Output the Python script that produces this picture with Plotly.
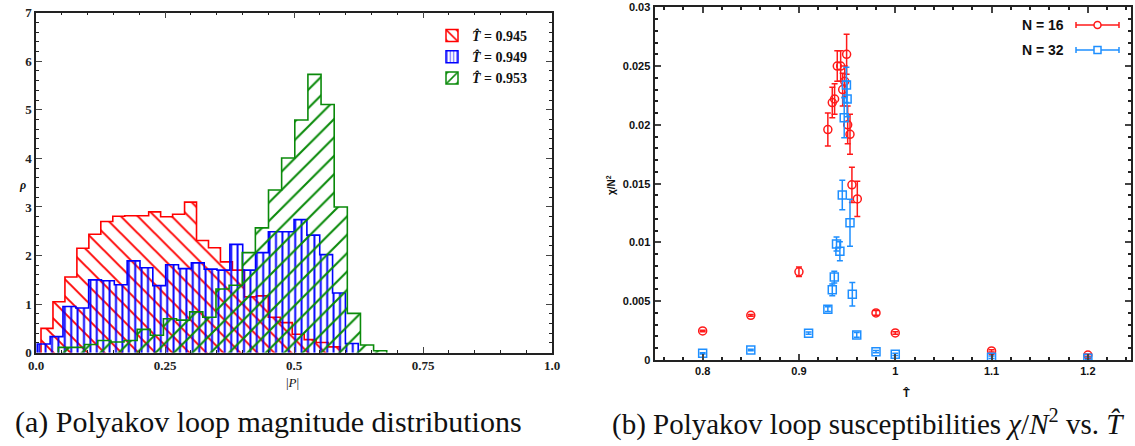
import numpy as np
import plotly.graph_objects as go

W, H = 1135, 446

# ---------------- data: panel (a) histograms (25 bins each, density) ----------------
hist_names = ["0.945", "0.949", "0.953"]
red_range = (0.0097, 0.5893)
red_rho = [0.50, 1.05, 1.56, 2.15, 2.44, 2.70, 2.81, 2.82, 2.82, 2.90, 2.80, 2.85, 3.10,
           2.31, 2.16, 1.87, 1.70, 1.15, 1.17, 0.73, 0.62, 0.38, 0.27, 0.21, 0.12]
blue_range = (0.0025, 0.6245)
blue_rho = [0.18, 0.33, 0.95, 0.92, 1.50, 1.48, 1.40, 1.89, 1.75, 1.38, 1.81, 1.73, 1.85,
            1.72, 1.70, 2.23, 1.70, 2.06, 2.49, 2.49, 2.74, 2.42, 2.02, 1.23, 0.19]
green_range = (0.0433, 0.6797)
green_rho = [0.11, 0.11, 0.17, 0.25, 0.22, 0.25, 0.48, 0.36, 0.70, 0.67, 0.84, 0.73, 1.31,
             1.39, 2.06, 2.57, 3.35, 4.01, 4.79, 5.73, 5.11, 3.00, 0.81, 0.16, 0.04]

# ---------------- data: panel (b) susceptibilities ----------------
n16_T = [0.80, 0.85, 0.90, 0.930, 0.9346, 0.937, 0.9398, 0.9433, 0.9454, 0.9475, 0.9495,
         0.9506, 0.953, 0.955, 0.9606, 0.98, 1.00, 1.10, 1.20]
n16_chi = [0.00247, 0.0038, 0.0075, 0.0196, 0.0219, 0.0222, 0.0250, 0.0250, 0.0230, 0.0237,
           0.0260, 0.0200, 0.0192, 0.0149, 0.0137, 0.0040, 0.0023, 0.00077, 0.00042]
n16_err = [0.00006, 0.00008, 0.0004, 0.0014, 0.0013, 0.0013, 0.0013, 0.0013, 0.0014, 0.0013,
           0.0017, 0.0016, 0.0017, 0.0015, 0.0015, 0.0002, 0.0001, 0.0001, 0.0001]
n32_T = [0.80, 0.85, 0.91, 0.930, 0.9346, 0.9367, 0.939, 0.9425, 0.945, 0.947, 0.9493,
         0.9500, 0.953, 0.9554, 0.960, 0.98, 1.00, 1.10, 1.20]
n32_chi = [0.00057, 0.00085, 0.00228, 0.00432, 0.00597, 0.00705, 0.00987, 0.00925, 0.01404,
           0.0206, 0.0234, 0.0222, 0.01168, 0.0056, 0.00213, 0.00071, 0.00048, 0.00023, 0.00014]
n32_err = [0.00005, 0.00006, 0.0001, 0.0002, 0.0005, 0.0005, 0.0006, 0.0008, 0.00125, 0.0017,
           0.0015, 0.0015, 0.0020, 0.0010, 0.0002, 0.0001, 0.0001, 0.0001, 0.0001]

RED_H, BLUE_H, GREEN_H = "#ff0000", "#0000ff", "#0a8a0a"
RED_P, BLUE_P = "#ff1a1a", "#1e8fff"
SERIF = "Liberation Serif"
SANS = "Liberation Sans"


def px(x):
    return x / W


def py(y):
    return 1 - y / H


def step_xy(rng, h):
    edges = np.linspace(rng[0], rng[1], len(h) + 1)
    xs = [edges[0]] + list(edges[:-1]) + [edges[-1]]
    ys = [0] + list(h) + [0]
    return xs, ys


fig = go.Figure()

hist_specs = [
    (red_range, red_rho, RED_H, "\\", 12, 0.16),
    (blue_range, blue_rho, BLUE_H, "|", 6.4, 0.3),
    (green_range, green_rho, GREEN_H, "/", 13, 0.16),
]
for name, (rng, rho, col, shp, sz, sol) in zip(hist_names, hist_specs):
    xs, ys = step_xy(rng, rho)
    fig.add_trace(go.Scatter(
        x=xs, y=ys, mode="lines", xaxis="x", yaxis="y",
        line=dict(shape="hv", color=col, width=1.6),
        fill="tozeroy", fillcolor="rgba(0,0,0,0)",
        fillpattern=dict(shape=shp, fgcolor=col, bgcolor="rgba(0,0,0,0)",
                         fgopacity=1, size=sz, solidity=sol),
        showlegend=False, hoverinfo="skip"))
    fig.add_trace(go.Bar(
        x=[None], y=[None], xaxis="x", yaxis="y",
        name="<b><i>T̂</i> = %s</b>" % name,
        marker=dict(color="rgba(0,0,0,0)", line=dict(color=col, width=1.5),
                    pattern=dict(shape=shp, fgcolor=col, bgcolor="white", fgopacity=1,
                                 size=9 if shp != "|" else 4, solidity=0.22)),
        showlegend=True))

fig.add_trace(go.Scatter(
    x=n16_T, y=n16_chi, mode="markers", xaxis="x2", yaxis="y2", name="N = 16",
    marker=dict(symbol="circle-open", size=8, color=RED_P, line=dict(width=1.5, color=RED_P)),
    error_y=dict(type="data", array=n16_err, color=RED_P, thickness=1.5, width=3),
    showlegend=False))
fig.add_trace(go.Scatter(
    x=n32_T, y=n32_chi, mode="markers", xaxis="x2", yaxis="y2", name="N = 32",
    marker=dict(symbol="square-open", size=8, color=BLUE_P, line=dict(width=1.5, color=BLUE_P)),
    error_y=dict(type="data", array=n32_err, color=BLUE_P, thickness=1.5, width=3),
    showlegend=False))

axis_common = dict(showline=True, mirror="allticks", ticks="inside", showgrid=False,
                   zeroline=False, linecolor="#222", automargin=False)

fig.update_layout(
    width=W, height=H, margin=dict(l=0, r=0, t=0, b=0, autoexpand=False),
    paper_bgcolor="white", plot_bgcolor="white",
    barmode="overlay",
    xaxis=dict(domain=[px(36), px(552)], range=[0, 1], anchor="y",
               tickvals=[0, 0.25, 0.5, 0.75, 1.0], ticktext=["0.0", "0.25", "0.5", "0.75", "1.0"],
               ticklen=6, tickwidth=1.2, linewidth=1.5,
               minor=dict(dtick=0.05, ticks="inside", ticklen=3, tickcolor="#222"),
               tickfont=dict(family=SERIF, size=13, color="#222", weight="bold"),
               **axis_common),
    yaxis=dict(domain=[py(352.7), py(12.7)], range=[0, 7], anchor="x",
               tickvals=list(range(8)), ticklen=6, tickwidth=1.2, linewidth=1.5,
               minor=dict(dtick=0.2, ticks="inside", ticklen=3, tickcolor="#222"),
               tickfont=dict(family=SERIF, size=13, color="#222", weight="bold"),
               **axis_common),
    xaxis2=dict(domain=[px(654.5), px(1131.2)], range=[0.75, 1.245], anchor="y2",
                tickvals=[0.8, 0.9, 1.0, 1.1, 1.2], ticktext=["0.8", "0.9", "1", "1.1", "1.2"],
                ticklen=6, tickwidth=1.5, linewidth=2,
                minor=dict(dtick=0.02, ticks="inside", ticklen=3, tickcolor="#222"),
                tickfont=dict(family=SANS, size=11, color="#111", weight="bold"),
                **axis_common),
    yaxis2=dict(domain=[py(360), py(7.3)], range=[0, 0.03], anchor="x2",
                tickvals=[0, 0.005, 0.01, 0.015, 0.02, 0.025, 0.03],
                ticktext=["0", "0.005", "0.01", "0.015", "0.02", "0.025", "0.03"],
                ticklen=6, tickwidth=1.5, linewidth=2,
                minor=dict(dtick=0.001, ticks="inside", ticklen=3, tickcolor="#222"),
                tickfont=dict(family=SANS, size=11, color="#111", weight="bold"),
                **axis_common),
    legend=dict(x=px(432), y=py(20), xanchor="left", yanchor="top",
                bgcolor="rgba(0,0,0,0)", font=dict(family=SERIF, size=14, color="#111"),
                tracegroupgap=0, itemwidth=30),
)

ann = []
# axis titles
ann.append(dict(x=px(22), y=py(185), text="<b><i>ρ</i></b>", font=dict(family=SERIF, size=12)))
ann.append(dict(x=px(292), y=py(382), text="|<i>P</i>|", font=dict(family=SERIF, size=13)))
ann.append(dict(x=px(611), y=py(185), text="<b>χ/N<sup>2</sup></b>", textangle=-90,
                font=dict(family=SANS, size=10)))
ann.append(dict(x=px(906), y=py(393), text="<b>T̂</b>", font=dict(family=SANS, size=11)))
# captions
ann.append(dict(x=px(268), y=py(422), text="(a) Polyakov loop magnitude distributions",
                font=dict(family=SERIF, size=30)))
ann.append(dict(x=px(868), y=py(422),
                text="(b) Polyakov loop susceptibilities <i>χ</i>/<i>N</i><sup>2</sup> vs. <i>T̂</i>",
                font=dict(family=SERIF, size=29)))
# manual legend text for panel (b)
ann.append(dict(x=px(1066), y=py(25), text="<b>N = 16</b>", xanchor="right",
                font=dict(family=SANS, size=14, color="#111")))
ann.append(dict(x=px(1066), y=py(50), text="<b>N = 32</b>", xanchor="right",
                font=dict(family=SANS, size=14, color="#111")))
for a in ann:
    a.setdefault("xref", "paper")
    a.setdefault("yref", "paper")
    a.setdefault("showarrow", False)
    a.setdefault("xanchor", "center")
    a.setdefault("yanchor", "middle")
    a["font"].setdefault("color", "#111")
fig.update_layout(annotations=ann)

# legend glyphs for panel (b)
shapes = []
for yy, col, kind in [(25, RED_P, "circle"), (50, BLUE_P, "rect")]:
    shapes.append(dict(type="line", xref="paper", yref="paper", x0=px(1076), x1=px(1119),
                       y0=py(yy), y1=py(yy), line=dict(color=col, width=1.5)))
    for xx in (1076, 1119):
        shapes.append(dict(type="line", xref="paper", yref="paper", x0=px(xx), x1=px(xx),
                           y0=py(yy - 3), y1=py(yy + 3), line=dict(color=col, width=1.5)))
    shapes.append(dict(type=kind, xref="paper", yref="paper", x0=px(1094), x1=px(1101),
                       y0=py(yy + 3.5), y1=py(yy - 3.5), fillcolor="white",
                       line=dict(color=col, width=1.5)))
fig.update_layout(shapes=shapes)

fig.write_html(
    "out.html",
    config={"displayModeBar": False},
    post_script="document.body.style.margin='0';document.body.style.overflow='hidden';",
)
